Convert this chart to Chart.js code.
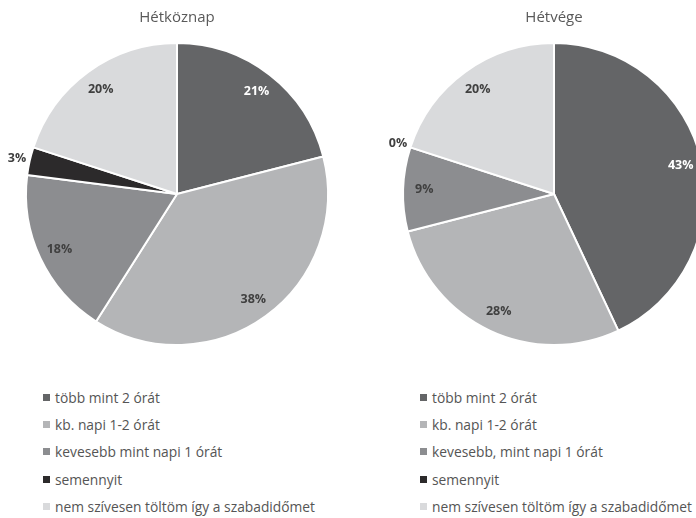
<!DOCTYPE html>
<html>
<head>
<meta charset="utf-8">
<script src="https://cdn.jsdelivr.net/npm/chart.js@4"></script>
<style>
    html, body { margin: 0; padding: 0; background: #fff; }
    body { width: 696px; height: 518px; overflow: hidden; position: relative; font-family: 'Open Sans', sans-serif; }
    .pie-wrap { position: absolute; top: 0; width: 354px; height: 350px; }
    .legend { position: absolute; top: 384px; margin: 0; padding: 0; list-style: none; font-size: 13.8px; color: #555555; }
    .legend li { height: 27.2px; line-height: 27.2px; white-space: nowrap; display: flex; align-items: center; }
    .legend .box { display: inline-block; width: 7px; height: 7px; margin-right: 5px; }
</style>
</head>
<body>
<div class="pie-wrap" style="left:0px"><canvas id="weekday-chart" width="354" height="350"></canvas></div>
<div class="pie-wrap" style="left:377px"><canvas id="weekend-chart" width="354" height="350"></canvas></div>
<ul class="legend" id="weekday-legend" style="left:43px"></ul>
<ul class="legend" id="weekend-legend" style="left:420px"></ul>
<script>
const weekdayTitle = 'Hétköznap';
const weekendTitle = 'Hétvége';
const weekdayLabels = ['több mint 2 órát', 'kb. napi 1-2 órát', 'kevesebb mint napi 1 órát', 'semennyit', 'nem szívesen töltöm így a szabadidőmet'];
const weekendLabels = ['több mint 2 órát', 'kb. napi 1-2 órát', 'kevesebb, mint napi 1 órát', 'semennyit', 'nem szívesen töltöm így a szabadidőmet'];
const weekdayValues = [21, 38, 18, 3, 20];
const weekendValues = [43, 28, 9, 0, 20];
const sliceColors = ['#646567', '#b4b5b7', '#8c8d90', '#2c2a2b', '#d9dadc'];
const labelColors = ['#ffffff', '#404040', '#404040', '#404040', '#404040'];

// Percentage labels: inside near the rim, small slices outside
const pieLabels = {
    id: 'pieLabels',
    afterDatasetsDraw(chart) {
        const ctx = chart.ctx;
        const meta = chart.getDatasetMeta(0);
        const values = chart.data.datasets[0].data;
        ctx.save();
        ctx.font = 'bold 12.5px "Open Sans", sans-serif';
        ctx.textAlign = 'center';
        ctx.textBaseline = 'middle';
        meta.data.forEach((arc, i) => {
            const mid = (arc.startAngle + arc.endAngle) / 2;
            const small = values[i] < 5;
            const r = small ? arc.outerRadius + 13 : arc.outerRadius * 0.86;
            ctx.fillStyle = small ? '#404040' : labelColors[i];
            ctx.fillText(values[i] + '%', arc.x + Math.cos(mid) * r, arc.y + Math.sin(mid) * r);
        });
        ctx.restore();
    }
};

function buildPie(canvasId, legendId, title, labels, values) {
    const ctx = document.getElementById(canvasId).getContext('2d');
    const chart = new Chart(ctx, {
        type: 'pie',
        data: {
            labels: labels,
            datasets: [{
                data: values,
                backgroundColor: sliceColors,
                borderColor: '#ffffff',
                borderWidth: 2
            }]
        },
        options: {
            responsive: false,
            animation: false,
            layout: { padding: { left: 25, right: 25, top: 0, bottom: 4 } },
            plugins: {
                legend: { display: false },
                tooltip: { enabled: false },
                title: {
                    display: true,
                    text: title,
                    color: '#595959',
                    font: { family: "'Open Sans', sans-serif", size: 15, weight: 'normal', lineHeight: 1.2 },
                    padding: { top: 9, bottom: 15 }
                }
            }
        },
        plugins: [pieLabels]
    });

    // HTML legend built from the chart's own labels
    const items = chart.options.plugins.legend.labels.generateLabels(chart);
    document.getElementById(legendId).innerHTML = items.map(item => `
        <li><span class="box" style="background:${item.fillStyle}"></span>${item.text}</li>
    `).join('');
    return chart;
}

buildPie('weekday-chart', 'weekday-legend', weekdayTitle, weekdayLabels, weekdayValues);
buildPie('weekend-chart', 'weekend-legend', weekendTitle, weekendLabels, weekendValues);
</script>
</body>
</html>
